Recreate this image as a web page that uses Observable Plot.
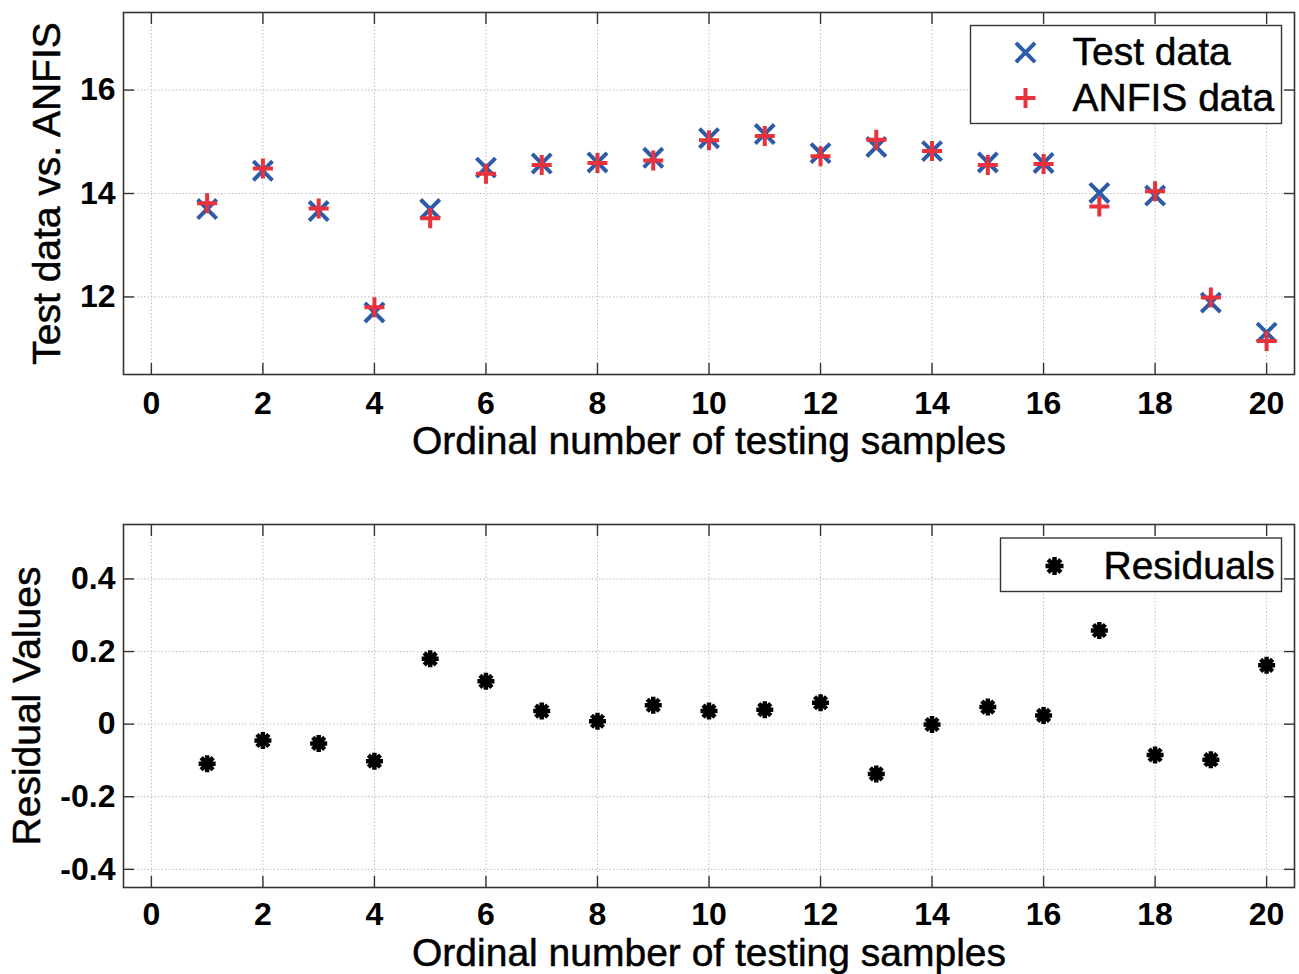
<!DOCTYPE html>
<html>
<head>
<meta charset="utf-8">
<script src="https://cdn.jsdelivr.net/npm/d3@7"></script>
<script src="https://cdn.jsdelivr.net/npm/@observablehq/plot@0.6"></script>
<style>
  html, body { margin: 0; padding: 0; background: #fff; }
  #chart svg { display: block; }
</style>
</head>
<body>
<div id="chart"></div>
<script>
// ---- data ----
const samples = [1,2,3,4,5,6,7,8,9,10,11,12,13,14,15,16,17,18,19,20];
const testData  = [13.70, 14.44, 13.66, 11.70, 13.70, 14.50, 14.58, 14.60, 14.69, 15.07,
                   15.15, 14.78, 14.90, 14.82, 14.60, 14.59, 14.01, 13.96, 11.89, 11.31];
const anfisData = [13.81, 14.485, 13.71, 11.80, 13.52, 14.38, 14.55, 14.59, 14.64, 15.03,
                   15.11, 14.72, 15.04, 14.82, 14.55, 14.57, 13.75, 14.045, 11.99, 11.15];
const residuals = [-0.109, -0.045, -0.053, -0.102, 0.180, 0.118, 0.036, 0.008, 0.052, 0.036,
                   0.040, 0.059, -0.137, -0.001, 0.047, 0.024, 0.258, -0.085, -0.098, 0.162];
const xTicks = [0,2,4,6,8,10,12,14,16,18,20];
const yTicksTop = [12,14,16];
const yTicksBottom = [-0.4,-0.2,0,0.2,0.4];
const xTitle = "Ordinal number of testing samples";
const yTitleTop = "Test data vs. ANFIS";
const yTitleBottom = "Residual Values";
const legendTop = ["Test data", "ANFIS data"];
const legendBottom = ["Residuals"];

// ---- styles ----
const BLUE = "#2d5ba8", RED = "#e8323c", FRAME = "#333";
const FONT = "'Liberation Sans', Arial, Helvetica, sans-serif";
const W = 1299, H = 487;
const fmt = d => String(d);
const TXT = {fontSize: 39, fill: "#000", stroke: "#000", strokeWidth: 0.5, lineAnchor: "middle"};

// custom MATLAB-like symbols (half-span = r)
const rad = s => Math.sqrt(s / Math.PI);
const symTimes = {draw(c, s) { const r = rad(s) * Math.SQRT1_2;
  c.moveTo(-r, -r); c.lineTo(r, r); c.moveTo(-r, r); c.lineTo(r, -r); }};
const symPlus = {draw(c, s) { const r = rad(s);
  c.moveTo(-r, 0); c.lineTo(r, 0); c.moveTo(0, -r); c.lineTo(0, r); }};
const symStar = {draw(c, s) { const r = rad(s);
  for (let k = 0; k < 4; k++) { const a = k * Math.PI / 4;
    c.moveTo(-r * Math.cos(a), -r * Math.sin(a)); c.lineTo(r * Math.cos(a), r * Math.sin(a)); } }};

const topRows = samples.map((s, i) => ({s, test: testData[i], anfis: anfisData[i]}));
const botRows = samples.map((s, i) => ({s, res: residuals[i]}));

function gridMarks(yTicks) {
  return [
    Plot.gridX(xTicks, {stroke: "#bdbdbd", strokeOpacity: 1, strokeDasharray: "1.5,2"}),
    Plot.gridY(yTicks, {stroke: "#bdbdbd", strokeOpacity: 1, strokeDasharray: "1.5,2"})
  ];
}
function frameAxes(yTicks, pad) {
  return [
    Plot.frame({stroke: FRAME, strokeWidth: 1.6}),
    Plot.axisX(xTicks, {anchor: "bottom", tickSize: -11, text: null, stroke: FRAME, strokeWidth: 1.4, label: null}),
    Plot.axisX(xTicks, {anchor: "top", tickSize: -11, text: null, stroke: FRAME, strokeWidth: 1.4, label: null}),
    Plot.axisY(yTicks, {anchor: "left", tickSize: -11, text: null, stroke: FRAME, strokeWidth: 1.4, label: null}),
    Plot.axisY(yTicks, {anchor: "right", tickSize: -11, text: null, stroke: FRAME, strokeWidth: 1.4, label: null}),
    Plot.axisX(xTicks, {anchor: "bottom", tickSize: 0, tickPadding: pad, fontSize: 32, fontWeight: "bold",
      tickFormat: fmt, label: null, fill: "#000"}),
    Plot.axisY(yTicks, {anchor: "left", tickSize: 0, tickPadding: 8, fontSize: 32, fontWeight: "bold",
      tickFormat: fmt, label: null, fill: "#000"})
  ];
}

const plotTop = Plot.plot({
  width: W, height: H,
  marginLeft: 123, marginRight: 5, marginTop: 12, marginBottom: 113,
  style: {fontFamily: FONT, background: "#fff", color: "#000"},
  x: {domain: [-0.5, 20.5]},
  y: {domain: [10.5, 17.5]},
  marks: [
    ...gridMarks(yTicksTop),
    Plot.dot(topRows, {x: "s", y: "test", symbol: symTimes, r: 13.5, fill: "none", stroke: BLUE, strokeWidth: 4}),
    Plot.dot(topRows, {x: "s", y: "anfis", symbol: symPlus, r: 10, fill: "none", stroke: RED, strokeWidth: 4}),
    ...frameAxes(yTicksTop, 17),
    Plot.text([xTitle], {...TXT, text: d => d, frameAnchor: "bottom", dy: 67, textAnchor: "middle"}),
    Plot.text([yTitleTop], {...TXT, text: d => d, frameAnchor: "left", dx: -76, rotate: -90, textAnchor: "middle"}),
    // legend
    Plot.frame({insetLeft: 847, insetTop: 13, insetRight: 13, insetBottom: 251, fill: "#fff", stroke: FRAME, strokeWidth: 1.4}),
    Plot.dot([legendTop[0]], {frameAnchor: "top-right", dx: -269, dy: 40, symbol: symTimes, r: 13.5, fill: "none", stroke: BLUE, strokeWidth: 4}),
    Plot.dot([legendTop[1]], {frameAnchor: "top-right", dx: -269, dy: 85.5, symbol: symPlus, r: 10, fill: "none", stroke: RED, strokeWidth: 4}),
    Plot.text([legendTop[0]], {...TXT, text: d => d, frameAnchor: "top-right", dx: -222, dy: 40.5, textAnchor: "start"}),
    Plot.text([legendTop[1]], {...TXT, text: d => d, frameAnchor: "top-right", dx: -222, dy: 86, textAnchor: "start"})
  ]
});

const plotBot = Plot.plot({
  width: W, height: H,
  marginLeft: 123, marginRight: 5, marginTop: 37, marginBottom: 87,
  style: {fontFamily: FONT, background: "#fff", color: "#000"},
  x: {domain: [-0.5, 20.5]},
  y: {domain: [-0.45, 0.55]},
  marks: [
    ...gridMarks(yTicksBottom),
    Plot.dot(botRows, {x: "s", y: "res", symbol: symStar, r: 8.5, fill: "none", stroke: "#000", strokeWidth: 4.5}),
    ...frameAxes(yTicksBottom, 15),
    Plot.text([xTitle], {...TXT, text: d => d, frameAnchor: "bottom", dy: 66, textAnchor: "middle"}),
    Plot.text([yTitleBottom], {...TXT, text: d => d, frameAnchor: "left", dx: -96, rotate: -90, textAnchor: "middle"}),
    // legend
    Plot.frame({insetLeft: 877, insetTop: 13.5, insetRight: 13, insetBottom: 296, fill: "#fff", stroke: FRAME, strokeWidth: 1.4}),
    Plot.dot([legendBottom[0]], {frameAnchor: "top-right", dx: -240, dy: 41.5, symbol: symStar, r: 9, fill: "none", stroke: "#000", strokeWidth: 4.5}),
    Plot.text([legendBottom[0]], {...TXT, text: d => d, frameAnchor: "top-right", dx: -191, dy: 42, textAnchor: "start"})
  ]
});

const chart = document.getElementById("chart");
chart.appendChild(plotTop);
chart.appendChild(plotBot);
</script>
</body>
</html>
